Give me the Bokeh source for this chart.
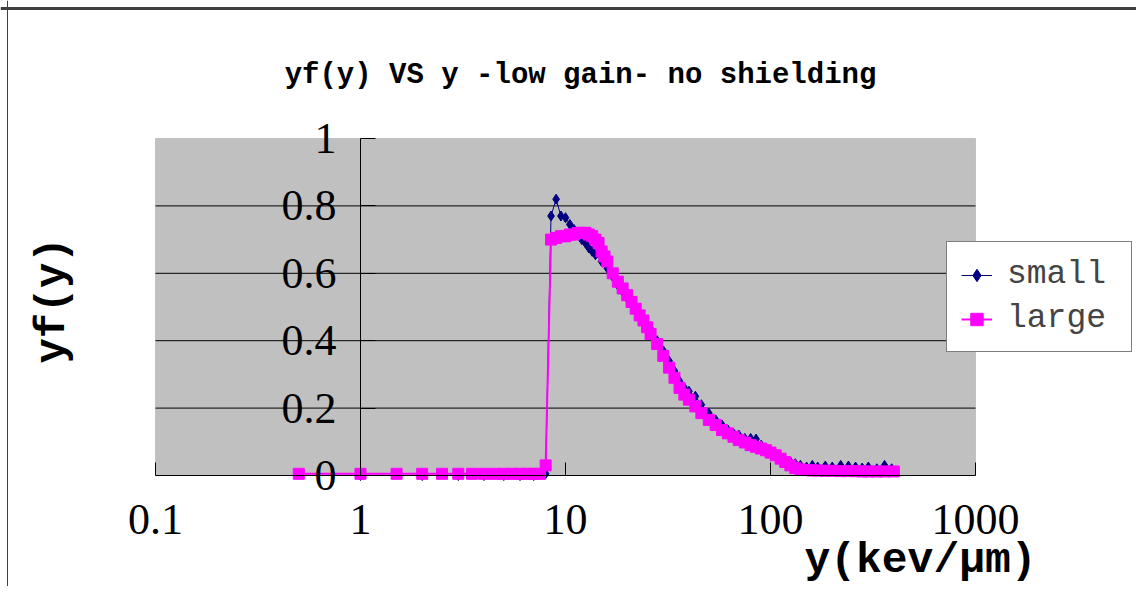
import math
from bokeh.plotting import figure
from bokeh.models import Range1d, FixedTicker, Label, Legend, LegendItem, BoxAnnotation, Span
from bokeh.embed import file_html
from bokeh.resources import INLINE

# ---------------- data ----------------
title_text = "yf(y) VS y -low gain- no shielding"
x_axis_title = "y(kev/μm)"
y_axis_title = "yf(y)"

x_ticks = [0.1, 1, 10, 100, 1000]
x_tick_labels = ["0.1", "1", "10", "100", "1000"]
y_ticks = [0, 0.2, 0.4, 0.6, 0.8, 1]
y_tick_labels = ["0", "0.2", "0.4", "0.6", "0.8", "1"]

series_names = ["small", "large"]

x_small = [1, 2, 3, 4, 5, 6, 7, 8, 8.5, 9, 9.5, 10, 10.5, 11, 11.5, 12, 12.5, 13,
           13.5, 14, 15, 16, 17, 18, 19, 20, 21, 22, 23, 24, 25, 26, 28, 30, 32,
           34, 36, 38, 40, 43, 46, 50, 54, 58, 62, 66, 70, 75, 80, 85, 90, 95, 100,
           106, 112, 118, 125, 132, 140, 150, 160, 170, 185, 200, 220, 240, 260,
           280, 300, 330, 360, 390]
y_small = [0, 0, 0, 0, 0, 0, 0, 0.005, 0.77, 0.82, 0.77, 0.765, 0.745, 0.73, 0.715,
           0.70, 0.69, 0.675, 0.665, 0.655, 0.635, 0.615, 0.59, 0.565, 0.545, 0.525,
           0.51, 0.49, 0.475, 0.46, 0.445, 0.435, 0.40, 0.37, 0.34, 0.31, 0.28, 0.26,
           0.25, 0.235, 0.21, 0.185, 0.165, 0.15, 0.135, 0.125, 0.12, 0.11, 0.11,
           0.108, 0.09, 0.08, 0.07, 0.06, 0.05, 0.045, 0.04, 0.035, 0.03, 0.025,
           0.03, 0.025, 0.028, 0.025, 0.03, 0.028, 0.025, 0.022, 0.025, 0.02, 0.03,
           0.02]

x_large = [0.5, 1, 1.5, 2, 2.5, 3, 3.5, 4, 4.5, 5, 5.5, 6, 6.5, 7, 7.5, 8, 8.5, 9,
           9.5, 10, 10.5, 11, 11.5, 12, 12.5, 13, 13.5, 14, 14.5, 15, 15.5, 16, 17,
           18, 19, 20, 21, 22, 23, 24, 25, 26, 28, 30, 32, 34, 36, 38, 40, 43, 46,
           50, 54, 58, 62, 66, 70, 75, 80, 85, 90, 95, 100, 106, 112, 118, 125, 132,
           140, 150, 160, 170, 185, 200, 220, 240, 260, 280, 300, 330, 360, 400]
y_large = [0.005, 0.005, 0.005, 0.005, 0.005, 0.005, 0.005, 0.005, 0.005, 0.005,
           0.005, 0.005, 0.005, 0.005, 0.005, 0.03, 0.70, 0.705, 0.71, 0.71, 0.715,
           0.715, 0.72, 0.72, 0.72, 0.715, 0.71, 0.70, 0.69, 0.665, 0.65, 0.635,
           0.60, 0.575, 0.555, 0.535, 0.515, 0.495, 0.475, 0.46, 0.44, 0.42, 0.39,
           0.355, 0.32, 0.29, 0.26, 0.24, 0.225, 0.205, 0.185, 0.165, 0.15, 0.135,
           0.125, 0.115, 0.105, 0.098, 0.09, 0.085, 0.08, 0.075, 0.068, 0.06, 0.05,
           0.04, 0.03, 0.022, 0.018, 0.016, 0.015, 0.015, 0.014, 0.014, 0.013,
           0.013, 0.013, 0.012, 0.012, 0.012, 0.012, 0.012]

# ---------------- layout (pixels) ----------------
W, H = 1136, 586
PLOT_L, PLOT_R, PLOT_T, PLOT_B = 155, 975, 138, 475   # gray plot area in canvas pixels
px_per_decade = (PLOT_R - PLOT_L) / (math.log10(x_ticks[-1]) - math.log10(x_ticks[0]))
px_per_unit = (PLOT_B - PLOT_T) / (y_ticks[-1] - y_ticks[0])
x_start = 10 ** (math.log10(x_ticks[0]) - PLOT_L / px_per_decade)
x_end = 10 ** (math.log10(x_ticks[-1]) + (W - PLOT_R) / px_per_decade)
y_start = y_ticks[0] - (H - PLOT_B) / px_per_unit
y_end = y_ticks[-1] + PLOT_T / px_per_unit

NAVY = "#000080"
MAGENTA = "#FF00FF"
MONO = "Liberation Mono"
SERIF = "Liberation Serif"

p = figure(
    frame_width=W, frame_height=H,
    min_border_left=0, min_border_right=0, min_border_top=0, min_border_bottom=0,
    x_axis_type="log", x_range=Range1d(x_start, x_end), y_range=Range1d(y_start, y_end),
    output_backend="svg", toolbar_location=None,
)
p.title.visible = False
p.background_fill_color = "white"
p.border_fill_color = "white"
p.outline_line_color = None

# gray plot area
p.add_layout(BoxAnnotation(left=x_ticks[0], right=x_ticks[-1], bottom=y_ticks[0], top=y_ticks[-1],
                           fill_color="#C0C0C0", fill_alpha=1, line_color="#808080",
                           line_width=1, level="underlay"))

# outer chart border (top and left)
p.add_layout(Span(location=H - 8, location_units="screen", dimension="width",
                  line_color="#404040", line_width=3))
p.add_layout(Span(location=7, location_units="screen", dimension="height",
                  line_color="#404040", line_width=1))

# horizontal gridlines
grid_vals = y_ticks[1:-1]
p.segment(x0=[x_ticks[0]] * len(grid_vals), x1=[x_ticks[-1]] * len(grid_vals),
          y0=grid_vals, y1=grid_vals, line_color="black", line_width=1)
p.xgrid.visible = False
p.ygrid.visible = False

# x axis along y = 0
xa = p.xaxis[0]
xa.fixed_location = 0
xa.bounds = (x_ticks[0], x_ticks[-1])
xa.ticker = FixedTicker(ticks=x_ticks, minor_ticks=[])
xa.major_label_overrides = dict(zip(x_ticks, x_tick_labels))
xa.axis_line_color = "black"
xa.major_tick_line_color = "black"
xa.major_tick_in = 13
xa.major_tick_out = 0
xa.minor_tick_line_color = None
xa.major_label_text_font = SERIF
xa.major_label_text_font_size = "44px"
xa.major_label_text_color = "black"
xa.major_label_standoff = 29

# y axis along x = 1
ya = p.yaxis[0]
ya.fixed_location = 1
ya.bounds = (y_ticks[0], y_ticks[-1])
ya.ticker = FixedTicker(ticks=y_ticks, minor_ticks=[])
ya.major_label_overrides = dict(zip(y_ticks, y_tick_labels))
ya.axis_line_color = "black"
ya.major_tick_line_color = "black"
ya.major_tick_in = 15
ya.major_tick_out = 0
ya.minor_tick_line_color = None
ya.major_label_text_font = SERIF
ya.major_label_text_font_size = "44px"
ya.major_label_text_color = "black"
ya.major_label_standoff = 24

# series
r_sl = p.line(x_small, y_small, line_color=NAVY, line_width=1)
r_sm = p.scatter(x_small, y_small, marker="diamond", size=10, fill_color=NAVY, line_color=NAVY)
r_ll = p.line(x_large, y_large, line_color=MAGENTA, line_width=2)
r_lm = p.scatter(x_large, y_large, marker="square", size=11, fill_color=MAGENTA, line_color=MAGENTA)

legend = Legend(
    items=[LegendItem(label=series_names[0], renderers=[r_sl, r_sm]),
           LegendItem(label=series_names[1], renderers=[r_ll, r_lm])],
    location=(946, H - 352),
    margin=0, padding=14, spacing=7,
    label_text_font=MONO, label_text_font_size="33px",
    label_height=36, glyph_height=36, glyph_width=31, label_standoff=15,
    label_width=110,
    border_line_color="black", border_line_width=1,
    background_fill_color="white", background_fill_alpha=1,
)
p.add_layout(legend, "center")

# titles
p.add_layout(Label(x=580, y=H - 75, x_units="screen", y_units="screen", text=title_text,
                   text_font=MONO, text_font_style="bold", text_font_size="29px",
                   text_align="center", text_baseline="middle", text_color="black"))
p.add_layout(Label(x=52, y=H - 300, x_units="screen", y_units="screen", text=y_axis_title,
                   text_font=MONO, text_font_style="bold", text_font_size="42px",
                   text_align="center", text_baseline="middle", angle=math.pi / 2,
                   text_color="black"))
p.add_layout(Label(x=920, y=H - 560, x_units="screen", y_units="screen", text=x_axis_title,
                   text_font=MONO, text_font_style="bold", text_font_size="43px",
                   text_align="center", text_baseline="middle", text_color="black"))

open("out.html", "w").write(file_html(p, INLINE))
